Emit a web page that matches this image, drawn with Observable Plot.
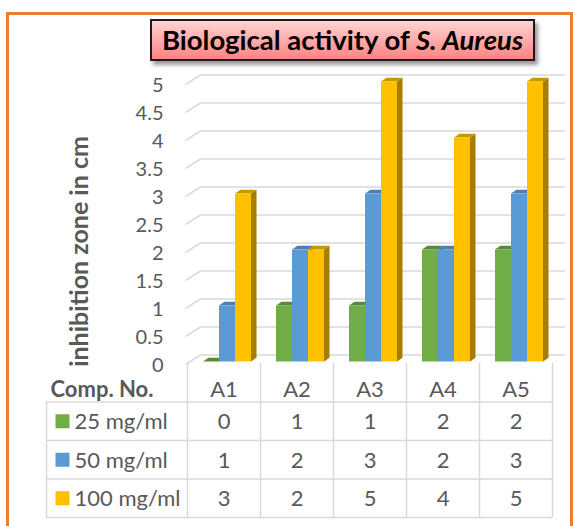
<!DOCTYPE html>
<html><head><meta charset="utf-8">
<script src="https://cdn.jsdelivr.net/npm/d3@7"></script>
<script src="https://cdn.jsdelivr.net/npm/@observablehq/plot@0.6"></script>
<style>
html,body{margin:0;padding:0;background:#fff;}
#root{position:relative;width:573px;height:526px;overflow:hidden;font-family:Lato,sans-serif;background:#fff;}
#frame{position:absolute;left:6px;top:12px;width:567px;height:600px;border:3px solid #ED7D31;box-sizing:border-box;pointer-events:none;}
#title{position:absolute;left:150px;top:19px;width:385px;height:42px;box-sizing:border-box;border:2px solid #1b1b1b;background:linear-gradient(#FFD3D3,#FF8383);box-shadow:3px 4px 4px rgba(0,0,0,0.4);font-weight:bold;font-size:27.5px;line-height:38px;text-align:center;color:#000;white-space:nowrap;z-index:3;}
.layer{position:absolute;left:0;}
</style></head>
<body><div id="root"><div id="frame"></div><div id="title">Biological activity of <i>S. Aureus</i></div></div>
<script>
// ---- data ----
const categories = ["A1", "A2", "A3", "A4", "A5"];
const seriesNames = ["25 mg/ml", "50 mg/ml", "100 mg/ml"];
const values25 = [0, 1, 1, 2, 2];
const values50 = [1, 2, 3, 2, 3];
const values100 = [3, 2, 5, 4, 5];
const yTicks = [0, 0.5, 1, 1.5, 2, 2.5, 3, 3.5, 4, 4.5, 5];
const yTickLabels = ["0", "0.5", "1", "1.5", "2", "2.5", "3", "3.5", "4", "4.5", "5"];
const yTitle = "inhibition zone in cm";
const tableHeader = "Comp. No.";

// ---- styles ----
const frontColors = ["#70AD47", "#5B9BD5", "#FFC000"];
const sideColors = ["#4F7A32", "#41709A", "#A67D00"];
const topColors = ["#5A8A39", "#4A80B4", "#C79600"];
const gridColor = "#D9D9D9";
const textColor = "#595959";

// ---- layout ----
const W = 573, H = 372, ML = 187, MR = 21, MT = 83, MB = 9;
const yMax = 5;
const xUnit = (W - ML - MR) / categories.length;
const yUnit = (H - MT - MB) / yMax;
const px = p => p / xUnit, py = p => p / yUnit;
const GAP = px(13.8), BW = px(16), DEPTH_X = px(5.5), DEPTH_Y = py(3.8);
const FDX = 2.2, FDY = -1.5;

const seriesValues = [values25, values50, values100];
const bars = seriesNames.map((s, si) => categories.map((c, ci) => {
  const x1 = ci + GAP + si * BW;
  return {c, s, ci, si, v: seriesValues[si][ci], x1, x2: x1 + BW};
}));

const sideMarks = bars.map((row, si) => Plot.areaY(
  row.flatMap(b => [
    {k: b.c, x: b.x2, y1: 0, y2: b.v},
    {k: b.c, x: b.x2 + DEPTH_X, y1: DEPTH_Y, y2: b.v + DEPTH_Y}
  ]),
  {x: "x", y1: "y1", y2: "y2", z: "k", fill: sideColors[si], dx: FDX, dy: FDY}));
const topMarks = bars.map((row, si) => Plot.areaX(
  row.flatMap(b => [
    {k: b.c, y: b.v, x1: b.x1, x2: b.x2},
    {k: b.c, y: b.v + DEPTH_Y, x1: b.x1 + DEPTH_X, x2: b.x2 + DEPTH_X}
  ]),
  {y: "y", x1: "x1", x2: "x2", z: "k", fill: topColors[si], dx: FDX, dy: FDY}));
const frontMarks = bars.map((row, si) => Plot.rect(row,
  {x1: "x1", x2: "x2", y1: 0, y2: "v", fill: frontColors[si], dx: FDX, dy: FDY}));

const chart = Plot.plot({
  width: W, height: H,
  marginLeft: ML, marginRight: MR, marginTop: MT, marginBottom: MB,
  x: {domain: [0, categories.length], axis: null},
  y: {domain: [0, yMax], axis: null},
  style: {fontFamily: "Lato, sans-serif", fontSize: "20px", color: textColor, background: "transparent", overflow: "visible"},
  marks: [
    Plot.ruleY(yTicks, {x1: 0, x2: categories.length, dx: 13, dy: -8.5, stroke: gridColor, strokeWidth: 1.5}),
    Plot.link(yTicks, {x1: 0, x2: px(15), y1: d => d, y2: d => d + py(9.5), dx: -2, dy: 1, stroke: gridColor, strokeWidth: 1.5}),
    Plot.text(yTicks, {y: d => d, text: (d, i) => yTickLabels[i], frameAnchor: "left", dx: -24, dy: 2, textAnchor: "end", fontSize: 20, fill: textColor}),
    Plot.text([yTitle], {text: d => d, frameAnchor: "left", textAnchor: "middle", dx: -108, dy: 28, rotate: -90, fontWeight: "bold", fontSize: 25, fill: textColor}),
    ...sideMarks,
    ...topMarks,
    ...frontMarks
  ]
});
chart.classList.add("layer");
chart.style.top = "0px";

// ---- data table ----
const TH = 163, TML = 46, rowCount = seriesNames.length + 1;
const cells = seriesNames.flatMap((s, si) => categories.map((c, ci) => ({si, ci, v: seriesValues[si][ci]})));
const table = Plot.plot({
  width: W, height: TH,
  marginLeft: TML, marginRight: MR, marginTop: 0, marginBottom: 9,
  x: {domain: [0, categories.length], range: [ML, W - MR], axis: null},
  y: {domain: [0, rowCount], range: [0, TH - 9], axis: null},
  color: {type: "identity"},
  style: {fontFamily: "Lato, sans-serif", fontSize: "22px", color: textColor, background: "transparent", overflow: "visible"},
  marks: [
    Plot.ruleY(d3.range(1, rowCount + 1), {stroke: gridColor, strokeWidth: 1.5}),
    Plot.ruleX(d3.range(categories.length + 1), {stroke: gridColor, strokeWidth: 1.5}),
    Plot.ruleX([0], {y1: 1, y2: rowCount, dx: TML - ML, stroke: gridColor, strokeWidth: 1.5}),
    Plot.text(categories, {x: (d, i) => i + 0.5, y: 0.5, dy: 7, text: d => d, fill: textColor}),
    Plot.text([tableHeader], {text: d => d, frameAnchor: "left", y: 0.5, dx: 4, dy: 7, textAnchor: "start", fontWeight: "bold", fill: textColor}),
    Plot.dot(seriesNames, {y: (d, i) => i + 1.5, frameAnchor: "left", dx: 16, symbol: "square", r: 7.9, fill: (d, i) => frontColors[i]}),
    Plot.text(seriesNames, {y: (d, i) => i + 1.5, text: d => d, frameAnchor: "left", dx: 28, dy: 1, textAnchor: "start", fill: textColor}),
    Plot.text(cells, {x: d => d.ci + 0.5, y: d => d.si + 1.5, text: d => String(d.v), dy: 1, fill: textColor})
  ]
});
table.classList.add("layer");
table.style.top = (H - MB) + "px";

const root = document.getElementById("root");
root.appendChild(chart);
root.appendChild(table);
</script>
</body></html>
